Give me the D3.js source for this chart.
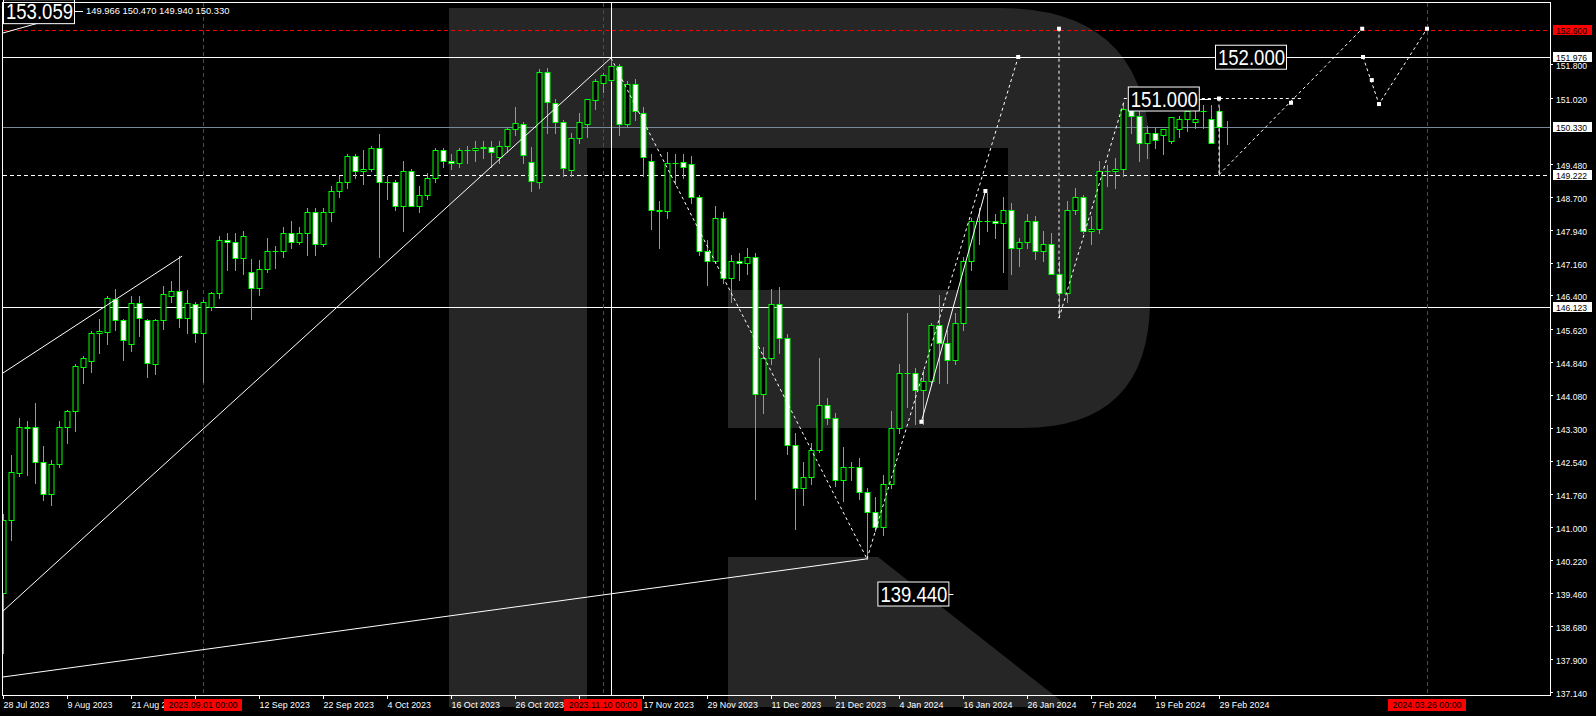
<!DOCTYPE html>
<html><head><meta charset="utf-8">
<script src="https://cdn.jsdelivr.net/npm/d3@7"></script>
<style>body{margin:0;background:#000;overflow:hidden}svg{display:block}</style>
</head><body>
<svg id="c" width="1596" height="716"></svg>
<script>
// ---------- DATA ----------
const openP = [139.45,141.15,142.25,143.30,143.32,142.51,141.76,142.46,143.34,143.70,144.73,144.87,145.52,145.55,146.32,145.83,145.27,146.22,145.83,144.80,145.83,146.39,146.50,145.87,146.20,145.52,146.13,146.46,147.70,147.65,147.28,146.95,146.58,147.02,147.45,147.45,147.85,147.65,147.85,148.35,147.60,148.35,148.85,149.05,149.65,149.30,149.35,149.85,149.05,149.05,148.50,149.30,148.50,148.75,149.15,149.80,149.55,149.50,149.80,149.80,149.84,149.86,149.63,149.90,150.28,150.40,149.52,149.04,151.63,150.90,150.45,149.33,150.08,150.40,150.96,151.36,151.43,151.77,150.40,151.35,150.66,149.54,148.40,148.38,149.50,149.52,149.48,148.70,147.45,147.20,148.20,146.80,147.20,147.15,147.30,144.10,144.95,146.20,145.40,142.90,141.90,142.15,142.80,143.85,143.55,142.10,142.40,142.40,141.80,141.35,141.00,142.00,143.30,144.60,144.60,144.20,144.40,145.70,145.30,144.90,145.75,147.20,148.15,148.15,148.15,148.10,148.40,147.50,147.65,148.15,147.45,147.60,146.90,146.45,148.40,148.70,147.90,147.95,149.30,149.30,149.35,150.75,150.60,149.95,150.20,150.15,150.00,150.28,150.53,150.44,150.70,150.53,150.70,149.966];
const highP = [141.30,142.67,143.54,143.47,143.89,142.89,142.55,143.46,143.72,144.80,144.99,145.57,145.85,146.39,146.55,145.85,146.39,146.39,145.85,145.85,146.62,146.74,147.32,146.53,146.25,146.30,146.48,147.80,147.85,147.85,147.90,147.25,147.23,147.75,147.55,148.00,148.15,148.00,148.45,148.45,148.45,148.95,149.20,149.70,149.70,149.80,149.90,150.16,149.20,149.10,149.55,149.35,148.95,149.25,149.85,149.85,149.70,149.85,149.90,150.00,150.00,150.00,150.00,150.30,150.80,150.45,149.86,151.70,151.72,151.00,150.50,150.20,150.65,151.00,151.45,151.60,151.95,151.80,151.40,151.45,150.80,149.70,148.60,149.75,149.70,149.70,149.65,148.75,147.70,148.50,148.35,147.35,147.40,147.50,147.40,145.20,146.55,146.60,145.50,143.20,142.50,142.95,144.95,144.00,143.65,142.85,142.50,142.60,141.90,141.70,142.20,143.70,144.80,145.98,144.70,144.65,145.75,146.40,145.60,146.00,147.30,148.20,148.45,148.80,148.30,148.70,148.55,147.75,148.30,148.25,147.90,147.85,147.20,148.60,148.90,148.75,148.25,149.55,149.45,149.60,150.90,150.85,150.70,150.35,150.30,150.28,150.40,150.60,150.60,150.80,150.85,150.85,150.80,150.47];
const lowP = [138.05,140.70,142.18,142.20,142.02,141.62,141.50,142.39,142.95,143.24,144.36,144.61,145.06,145.27,145.60,144.90,145.11,145.45,144.50,144.56,145.62,146.25,145.66,145.52,145.31,144.38,146.06,146.34,147.00,147.00,146.90,145.85,146.41,146.95,147.05,147.30,147.50,147.60,147.35,147.35,147.55,148.15,148.70,148.90,149.15,149.00,149.30,147.30,148.65,148.40,147.90,148.55,148.35,148.65,149.05,149.40,149.35,149.40,149.50,149.55,149.60,149.40,149.50,149.75,150.15,149.50,148.84,148.90,150.20,150.20,149.20,149.20,149.95,150.10,150.75,151.15,151.40,150.15,150.35,150.50,149.20,147.95,147.50,148.20,149.00,149.15,148.55,147.35,146.65,147.15,146.70,146.25,146.75,146.90,141.65,143.65,144.80,145.05,142.70,140.95,141.50,142.00,142.75,143.40,141.95,141.60,142.10,141.65,140.25,140.90,140.80,141.90,143.20,143.80,143.40,143.40,144.30,144.35,144.35,144.80,145.60,147.00,147.60,147.90,147.75,146.95,146.90,147.10,147.50,147.25,147.20,146.90,145.90,146.25,148.30,147.85,147.60,147.85,148.95,148.90,149.20,150.20,149.55,149.60,149.85,149.70,149.95,150.10,150.25,150.30,150.30,150.40,149.222,149.94];
const closeP = [141.15,142.27,143.32,143.32,142.51,141.76,142.46,143.34,143.70,144.75,144.94,145.52,145.57,146.34,145.83,145.36,146.22,145.87,144.82,145.83,146.44,146.50,145.87,146.22,145.52,146.25,146.46,147.70,147.65,147.28,147.80,146.58,147.02,147.45,147.45,147.85,147.65,147.85,148.35,147.60,148.35,148.85,149.05,149.65,149.30,149.35,149.85,149.05,149.05,148.50,149.30,148.50,148.75,149.15,149.80,149.55,149.50,149.80,149.80,149.85,149.86,149.74,149.90,150.28,150.42,149.67,149.07,151.63,150.93,150.45,149.38,150.08,150.45,151.00,151.40,151.55,151.77,150.40,151.35,150.72,149.63,148.40,148.38,149.50,149.50,149.40,148.70,147.45,147.20,148.20,146.80,147.20,147.15,147.30,144.10,144.95,146.20,145.40,142.90,141.90,142.15,142.80,143.85,143.55,142.10,142.40,142.40,141.80,141.35,141.00,142.00,143.30,144.60,144.60,144.20,144.40,145.70,145.30,144.90,145.75,147.20,148.15,148.15,148.15,148.10,148.40,147.50,147.65,148.15,147.45,147.60,146.90,146.45,148.40,148.70,147.90,147.95,149.30,149.30,149.35,150.75,150.60,149.95,150.20,150.02,150.28,150.56,150.53,150.72,150.53,150.70,149.95,150.33];

const xTickIdx = [0,8,16,24,32,40,48,56,64,72,80,88,96,104,112,120,128,136,144,152];
const xTickLabels = ["28 Jul 2023","9 Aug 2023","21 Aug 2023","","12 Sep 2023","22 Sep 2023","4 Oct 2023","16 Oct 2023","26 Oct 2023","","17 Nov 2023","29 Nov 2023","11 Dec 2023","21 Dec 2023","4 Jan 2024","16 Jan 2024","26 Jan 2024","7 Feb 2024","19 Feb 2024","29 Feb 2024"];
const yTicks = [151.800,151.020,149.480,148.700,147.940,147.160,146.400,145.620,144.840,144.080,143.300,142.540,141.760,141.000,140.220,139.460,138.680,137.900,137.140];

const hLevels = [151.976,150.330,149.222,146.123,152.600];
const redVIdx = [25,75,178];
const redVLabels = ["2023.09.01 00:00","2023.11.10 00:00","2024.03.26 00:00"];
const whiteVIdx = 76;

// overlay lines [index, price]
const solidLines = [
  [[0,144.59],[22.4,147.32]],
  [[0,139.03],[76,151.95]],
  [[0,137.49],[108,140.25]],
  [[0,152.53],[4.4,152.76]],
  [[114.8,143.45],[122.8,148.84]]
];
const dottedLines = [
  [[76,151.95],[108,140.25]],
  [[108,140.25],[126.9,151.97]],
  [[132,152.63],[132,145.87]],
  [[132,145.87],[140.1,150.92]],
  [[140.1,151.00],[162.5,151.00]],
  [[152,151.00],[152,149.222]],
  [[152,149.222],[169.9,152.63]],
  [[170,151.97],[172,150.87],[178,152.63]]
];
const markers = [[126.9,151.97],[132,152.63],[152,151.0],[161,150.9],[169.9,152.63],[170,151.97],[171.1,151.43],[172,150.87],[178,152.63],[114.8,143.45],[122.8,148.84]];
const bigLabels = [{t:"153.059",i:0,p:153.04,a:10},{t:"151.000",i:140.6,p:151.0,a:151},{t:"152.000",i:151.5,p:151.976,a:161.5},{t:"139.440",i:109.3,p:139.44,a:118.8}];

// ---------- SCALES ----------
const svg = d3.select("#c");
const x = d3.scaleLinear().domain([0,178]).range([3,3+178*8]);
const y = d3.scaleLinear().domain([137.14,152.6]).range([692,30]);
const L=3,R=1550,T=3,B=695;
const fnt = "Liberation Sans, Arial, sans-serif";

svg.append("rect").attr("width",1596).attr("height",716).attr("fill","#000");

// logo
const logo = "M449,8 L1000,8 Q1150,8 1150,158 L1150,300 Q1150,428 1022,428 L728,428 L728,290 L1008,290 L1008,148 L587,148 L587,707 L449,707 Z M728,557 L878,557 L1069,707 L728,707 Z";
svg.append("path").attr("d",logo).attr("fill","#262626");

svg.append("clipPath").attr("id","pc").append("rect").attr("x",L).attr("y",T).attr("width",R-L).attr("height",B-T);
const pg = svg.append("g").attr("clip-path","url(#pc)");

// horizontal levels
const hStyle = {151.976:["#fff",null],150.330:["#778899",null],149.222:["#fff","4,3"],146.123:["#fff",null],152.600:["#ff0000","4,3"]};
hLevels.forEach(v=>{
  pg.append("line").attr("x1",L).attr("x2",R).attr("y1",Math.round(y(v))+0.5).attr("y2",Math.round(y(v))+0.5)
    .attr("stroke",hStyle[v][0]).attr("stroke-width",1).attr("stroke-dasharray",hStyle[v][1]);
});
redVIdx.forEach(i=>{
  pg.append("line").attr("x1",x(i)+0.5).attr("x2",x(i)+0.5).attr("y1",T).attr("y2",B).attr("stroke","#ff0000").attr("stroke-dasharray","4,3");
});
pg.append("line").attr("x1",x(whiteVIdx)+0.5).attr("x2",x(whiteVIdx)+0.5).attr("y1",T).attr("y2",B).attr("stroke","#fff");

// candles
const idx = d3.range(openP.length);
const cg = pg.append("g");
idx.forEach(i=>{
  const cx = Math.round(x(i))+0.5;
  const o=openP[i],c=closeP[i];
  cg.append("line").attr("x1",cx).attr("x2",cx).attr("y1",Math.round(y(highP[i]))).attr("y2",Math.round(y(lowP[i]))+1).attr("stroke","#00ff00");
  const top=Math.round(y(Math.max(o,c))), bot=Math.round(y(Math.min(o,c)));
  cg.append("rect").attr("x",cx-2.5).attr("y",top+0.5).attr("width",5).attr("height",Math.max(bot-top,0.01))
    .attr("fill",c>=o?"#000":"#fff").attr("stroke","#00ff00").attr("stroke-width",1);
});

// overlay lines
const line = d3.line().x(d=>x(d[0])).y(d=>y(d[1]));
solidLines.forEach(pts=>pg.append("path").attr("d",line(pts)).attr("fill","none").attr("stroke","#fff").attr("stroke-width",1));
dottedLines.forEach(pts=>pg.append("path").attr("d",line(pts)).attr("fill","none").attr("stroke","#fff").attr("stroke-width",1).attr("stroke-dasharray","3,3"));
markers.forEach(m=>pg.append("rect").attr("x",x(m[0])-2).attr("y",y(m[1])-2).attr("width",4).attr("height",4).attr("fill","#fff"));

// big labels
bigLabels.forEach(b=>{
  const bx=x(b.i), by=y(b.p);
  svg.append("line").attr("x1",bx+71).attr("x2",x(b.a)).attr("y1",Math.round(by)+0.5).attr("y2",Math.round(by)+0.5).attr("stroke","#fff");
  svg.append("rect").attr("x",bx+0.5).attr("y",by-12+0.5).attr("width",71).attr("height",24).attr("fill","#000").attr("stroke","#fff");
  svg.append("text").attr("x",bx+3).attr("y",by+8).attr("fill","#fff").attr("font-family",fnt)
    .attr("font-size",22).attr("textLength",67).attr("lengthAdjust","spacingAndGlyphs").text(b.t);
});

// header text
svg.append("text").attr("x",86).attr("y",14).attr("fill","#fff").attr("font-family",fnt).attr("font-size",9.4).text("149.966 150.470 149.940 150.330");

// frame
svg.append("rect").attr("x",L-0.5).attr("y",T-0.5).attr("width",R-L+1).attr("height",B-T+1).attr("fill","none").attr("stroke","#fff");

// right axis
yTicks.forEach(v=>{
  const yy=Math.round(y(v))+0.5;
  svg.append("line").attr("x1",R).attr("x2",R+3).attr("y1",yy).attr("y2",yy).attr("stroke","#fff");
  svg.append("text").attr("x",R+6).attr("y",yy+4).attr("fill","#fff").attr("font-family",fnt).attr("font-size",8.6).text(v.toFixed(3));
});
hLevels.forEach(v=>{
  const yy=Math.round(y(v));
  const red = v===152.600;
  svg.append("rect").attr("x",R+3).attr("y",yy-5).attr("width",39).attr("height",10).attr("fill",red?"#ff0000":"#fff");
  svg.append("text").attr("x",R+6).attr("y",yy+3.5).attr("fill","#000").attr("font-family",fnt).attr("font-size",8.6).text(v.toFixed(3));
});

// bottom axis
xTickIdx.forEach((i,k)=>{
  const xx=Math.round(x(i))+0.5;
  svg.append("line").attr("x1",xx).attr("x2",xx).attr("y1",B).attr("y2",B+4).attr("stroke","#fff");
  if(xTickLabels[k]) svg.append("text").attr("x",xx).attr("y",708).attr("fill","#fff").attr("font-family",fnt).attr("font-size",8.9).text(xTickLabels[k]);
});
redVIdx.forEach((i,k)=>{
  const xx=x(i);
  svg.append("rect").attr("x",xx-39).attr("y",699).attr("width",78).attr("height",12).attr("fill","#ff0000");
  svg.append("text").attr("x",xx).attr("y",708).attr("text-anchor","middle").attr("fill","#000").attr("font-family",fnt).attr("font-size",8.9).text(redVLabels[k]);
});
</script>
</body></html>
